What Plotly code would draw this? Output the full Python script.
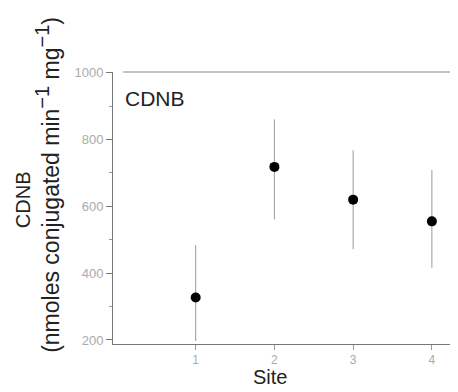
import plotly.graph_objects as go

sites = [1, 2, 3, 4]
means = [327, 718, 620, 555]
err_plus = [157, 142, 148, 154]
err_minus = [130, 157, 148, 139]
x_ticks = [1, 2, 3, 4]
y_ticks = [200, 400, 600, 800, 1000]

fig = go.Figure()
fig.add_trace(go.Scatter(
    x=sites, y=means, mode="markers",
    marker=dict(color="black", size=10),
    error_y=dict(type="data", symmetric=False, array=err_plus, arrayminus=err_minus,
                 color="#9a9a9a", thickness=1, width=0),
    showlegend=False,
))

font = "Liberation Sans, Arial, sans-serif"
sup = '<sup><span style="font-size:20px">\u22121</span></sup>'
fig.update_layout(
    width=450, height=384,
    margin=dict(l=105, r=8, t=64, b=48),
    paper_bgcolor="white", plot_bgcolor="white",
    font=dict(family=font, color="#222"),
    xaxis=dict(range=[-0.05, 4.23], tickvals=x_ticks, ticktext=[str(v) for v in x_ticks],
               showline=True, linecolor="#777", linewidth=1, showgrid=False, zeroline=False,
               ticks="outside", ticklen=5, tickcolor="#999",
               tickfont=dict(size=12, color="#aaa")),
    yaxis=dict(range=[188, 1002], tickvals=y_ticks,
               showline=True, linecolor="#777", linewidth=1, showgrid=False, zeroline=False,
               ticks="outside", ticklen=6, tickcolor="#777",
               tickfont=dict(size=13, color="#aaa"),
               minor=dict(dtick=100, ticks="outside", ticklen=3, tickcolor="#999", showgrid=False)),
    shapes=[dict(type="line", xref="paper", yref="paper", x0=0.03, x1=1.0, y0=1, y1=1,
                 line=dict(color="#888", width=1))],
    annotations=[
        dict(text="CDNB", xref="paper", yref="paper", x=0.03, y=0.904, xanchor="left", yanchor="middle",
             showarrow=False, font=dict(size=21, color="#222")),
        dict(text="Site", xref="paper", yref="paper", x=0.466, y=-0.169,
             xanchor="center", yanchor="bottom", showarrow=False, font=dict(size=20, color="#222")),
        dict(text="CDNB", xref="paper", yref="paper", x=-0.267, y=0.529, textangle=-90,
             xanchor="center", yanchor="middle", showarrow=False, font=dict(size=20, color="#222")),
        dict(text="(nmoles conjugated min" + sup + " mg" + sup + ")", xref="paper", yref="paper",
             x=-0.193, y=0.585, textangle=-90, xanchor="center", yanchor="middle", showarrow=False,
             font=dict(size=23, color="#222")),
    ],
)
fig.write_html("out.html")
